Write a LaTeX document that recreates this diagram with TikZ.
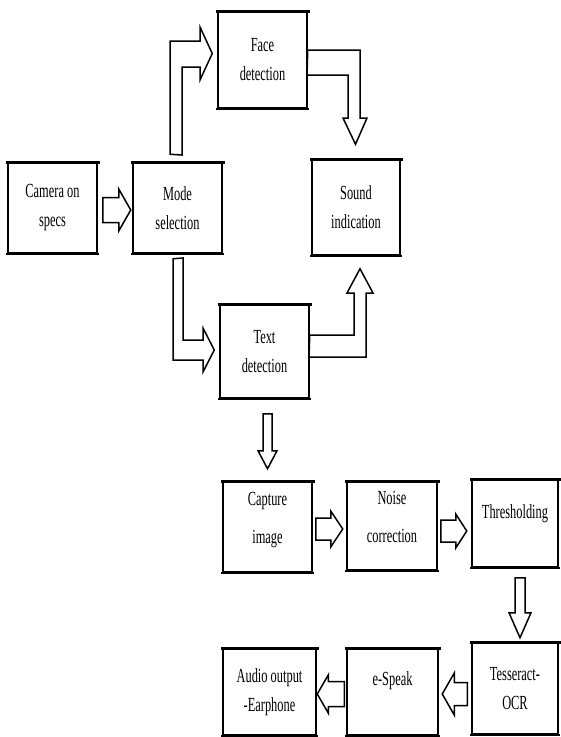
\documentclass[tikz,border=0pt]{standalone}
\usepackage{fontspec}
\setmainfont{Liberation Serif}[FakeStretch=0.62]
\usetikzlibrary{calc}
\tikzset{
  box/.style={draw, line width=1.5pt, fill=white, align=center, inner sep=0pt,
    font=\fontsize{20}{29}\selectfont},
  blk/.style={draw, line width=1.5pt, fill=white, line join=miter},
  thicktop/.style={line width=3.5pt, line cap=rect},
  thickbot/.style={line width=2.5pt, line cap=rect}
}
% #1 start, #2 angle, #3 length, #4 shaft half width, #5 head half width, #6 head length
\newcommand{\blockarrow}[6]{%
  \draw[blk, shift={#1}, rotate=#2] (0,-#4) -- ({#3-#6},-#4) -- ({#3-#6},-#5) -- (#3,0)
    -- ({#3-#6},#5) -- ({#3-#6},#4) -- (0,#4) -- cycle;}
\newcommand{\up}[2]{\raisebox{#1}[\height][\depth]{#2}}
\begin{document}
\begin{tikzpicture}[x=1pt,y=-1pt]
\useasboundingbox (0,0) rectangle (561,737);
% boxes
\node[box, minimum width=89pt, minimum height=90pt] (cam) at (52.5,208) {Camera on\\specs};
\node[box, minimum width=89pt, minimum height=90pt] (mode) at (177.5,208) {Mode\\selection};
\node[box, minimum width=89pt, minimum height=96pt] (face) at (262.5,60) {Face\\detection};
\node[box, minimum width=88pt, minimum height=95pt] (sound) at (356,207.5) {Sound\\indication};
\node[box, minimum width=89pt, minimum height=93pt] (text) at (264.5,351.5) {Text\\detection};
\node[box, minimum width=89pt, minimum height=90pt] (capture) at (267.5,527) {\up{8pt}{\begin{tabular}{@{}c@{}}Capture\\[9pt]image\end{tabular}}};
\node[box, minimum width=90pt, minimum height=88pt] (noise) at (392,526) {\up{8pt}{\begin{tabular}{@{}c@{}}Noise\\[9pt]correction\end{tabular}}};
\node[box, minimum width=86pt, minimum height=87pt] (thresh) at (515,523.5) {\up{10pt}{Thresholding}};
\node[box, minimum width=86pt, minimum height=91pt] (tess) at (515,688.5) {Tesseract-\\OCR};
\node[box, minimum width=91pt, minimum height=86pt] (espeak) at (392.5,692) {\up{11pt}{e-Speak}};
\node[box, minimum width=93pt, minimum height=86pt] (audio) at (269.5,692) {Audio output\\-Earphone};
% thicker top and bottom edges
\foreach \n in {cam,mode,face,sound,text,capture,noise,thresh,tess,espeak,audio}{
  \draw[thicktop] (\n.north west) -- (\n.north east);
  \draw[thickbot] (\n.south west) -- (\n.south east);
}
% straight block arrows
\blockarrow{($(cam.east)+(5,2)$)}{0}{28}{12.5}{21}{12}
\blockarrow{($(capture.east)+(3,2)$)}{0}{27}{11}{18}{12}
\blockarrow{($(noise.east)+(3,5)$)}{0}{26}{11}{17}{11}
\blockarrow{($(thresh.south)+(5,10)$)}{-90}{60}{5}{11}{25}
\blockarrow{($(text.south)+(3,15)$)}{-90}{55}{4.5}{9.5}{18}
\blockarrow{($(tess.west)+(-4,5.5)$)}{180}{25}{11.5}{21}{12}
\blockarrow{($(espeak.west)+(-2,2)$)}{180}{27}{12.5}{19}{11}
% bent arrow: mode -> face
\draw[blk] ($(mode.north)+(-7.5,-8)$) -- (170,41) -- (200,41) -- (200,27)
  -- ($(face.west)+(-5,-6.5)$) -- (200,80) -- (200,67) -- (182,67) -- (182,155) -- cycle;
% bent arrow: face -> sound
\draw[blk] ($(face.east)+(0,-10)$) -- (360,50) -- (360,118) -- (367,118)
  -- ($(sound.north)+(-0.5,-15)$) -- (343,118) -- (348,118) -- (348,75) -- (307,75) -- cycle;
% bent arrow: mode -> text
\draw[blk] ($(mode.south)+(-4.5,5)$) -- (173,360) -- (203,360) -- (203,372)
  -- ($(text.west)+(-5,-1.5)$) -- (203,328) -- (203,340) -- (183,340) -- (183,258) -- cycle;
% bent arrow: text -> sound
\draw[blk] ($(text.east)+(0,-16.5)$) -- (354,335) -- (354,293) -- (347,293)
  -- ($(sound.south)+(4,13)$) -- (373,293) -- (366,293) -- (366,357) -- (309,357) -- cycle;
\end{tikzpicture}
\end{document}
